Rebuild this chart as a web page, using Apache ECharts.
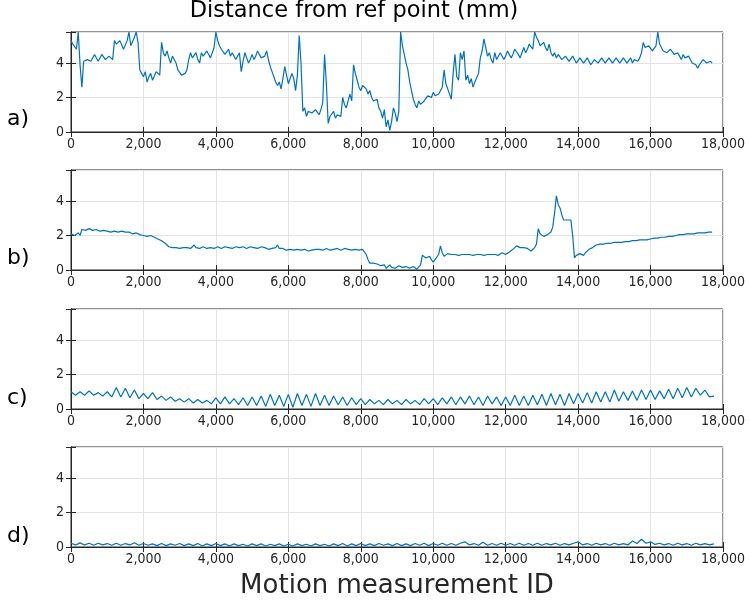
<!DOCTYPE html>
<html><head><meta charset="utf-8">
<script src="https://cdn.jsdelivr.net/npm/echarts@6/dist/echarts.min.js"></script>
<style>html,body{margin:0;padding:0;background:#fff}#c{width:750px;height:600px}</style>
</head><body><div id="c"></div>
<script>
// ---- data ----
const titleText = 'Distance from ref point (mm)';
const xLabelText = 'Motion measurement ID';
const panelLabels = ['a)', 'b)', 'c)', 'd)'];
const xTicks = [0, 2000, 4000, 6000, 8000, 10000, 12000, 14000, 16000, 18000];
const yTicks = [0, 2, 4];

// panel a, samples every 50 IDs
const stepA = 50;
const seriesA = [
5.3,5.1, 5.0,4.8, 5.8,3.9, 2.6,4.1, 4.0,4.2, 4.3,4.1, 4.2,4.5, 4.4,4.1, 4.2,4.5, 4.4,4.2,
4.3,4.4, 4.5,4.2, 5.3,5.1, 5.0,5.3, 5.2,4.8, 4.9,5.3, 5.8,5.0, 5.1,5.5, 5.8,5.2, 3.6,3.4,
3.2,3.5, 2.9,3.2, 3.4,3.0, 3.1,3.5, 3.6,3.3, 5.2,4.6, 4.4,4.7, 4.3,4.0, 4.4,4.2, 4.0,3.6,
3.5,3.3, 3.2,3.4, 3.6,4.2, 4.6,4.3, 4.4,4.6, 4.2,4.0, 4.6,4.4, 4.3,4.7, 4.5,4.3, 4.6,4.9,
5.8,5.3, 5.0,4.8, 4.7,4.5, 4.6,4.8, 4.4,4.6, 4.5,4.2, 4.3,4.6, 3.5,4.1, 4.6,4.3, 4.0,4.2,
4.5,4.2, 4.4,4.7, 4.5,4.3, 4.2,4.4, 4.7,4.2, 3.8,3.5, 3.2,2.9, 2.7,2.9, 2.5,3.1, 3.8,3.3,
2.8,3.1, 3.4,3.1, 2.4,3.3, 5.6,4.0, 1.2,1.4, 0.9,1.2, 1.3,1.1, 1.0,1.3, 1.2,1.0, 1.3,1.7,
4.5,2.8, 0.5,0.9, 1.0,1.2, 0.8,1.0, 1.1,0.9, 2.0,1.6, 1.4,1.8, 2.2,1.8, 3.9,3.4, 3.0,2.6,
2.4,2.7, 2.8,2.5, 2.2,2.4, 2.0,1.8, 1.7,1.9, 1.4,1.2, 0.8,1.3, 0.3,0.7, 0.1,0.6, 1.4,1.1,
0.6,1.2, 5.8,5.0, 4.5,4.0, 3.6,2.9, 2.4,1.9, 1.6,1.4, 1.8,1.6, 1.5,1.8, 1.9,2.1, 2.2,2.0,
2.3,2.1, 2.0,2.2, 2.1,2.6, 3.6,2.8, 2.5,2.2, 1.9,3.4, 4.5,3.2, 3.0,4.6, 4.2,4.7, 3.0,3.3,
2.8,3.1, 2.6,2.9, 2.8,3.4, 4.3,4.7, 5.4,4.9, 4.4,4.6, 4.2,4.0, 4.6,4.2, 4.3,4.6, 4.5,4.2,
4.4,4.7, 4.6,4.3, 4.5,4.8, 4.7,4.5, 4.3,4.6, 4.9,4.6, 4.8,5.1, 5.1,4.8, 5.8,5.5, 5.3,5.0,
5.0,5.2, 4.9,4.7, 5.1,4.6, 4.4,4.6, 4.3,4.5, 4.4,4.2, 4.2,4.4, 4.3,4.1, 4.1,4.4, 4.2,4.0,
4.1,4.3, 4.3,4.0, 4.1,4.3, 4.2,3.9, 4.0,4.2, 4.2,4.0, 4.0,4.3, 4.2,4.0, 4.1,4.3, 4.3,4.0,
4.1,4.3, 4.2,4.0, 4.0,4.3, 4.2,4.0, 4.1,4.3, 4.0,4.2, 4.2,4.1, 4.3,4.6, 5.2,4.9, 4.8,5.0,
4.9,4.7, 4.8,5.0, 5.8,5.1, 4.9,4.7, 4.8,4.6, 4.6,4.8, 4.7,4.5, 4.5,4.6, 4.4,4.2, 4.5,4.3,
4.3,4.4, 4.2,4.0, 4.1,3.9, 3.7,3.9, 4.0,4.2, 4.3,4.0, 4.0,4.1, 4.0
];

// panel b, samples every 50 IDs
const stepB = 50;
const seriesB = [
2.1,2.2, 2.0,2.1, 2.15,2.0, 2.35,2.4, 2.3,2.35, 2.4,2.3, 2.3,2.35, 2.35,2.25, 2.25,2.3, 2.3,2.25,
2.25,2.3, 2.2,2.25, 2.25,2.2, 2.2,2.3, 2.25,2.2, 2.2,2.25, 2.2,2.15, 2.1,2.2, 2.15,2.05, 2.05,2.1,
2.0,2.05, 1.95,2.0, 2.0,1.95, 1.9,1.85, 1.8,1.75, 1.7,1.6, 1.55,1.45, 1.35,1.3, 1.3,1.35, 1.3,1.25,
1.25,1.3, 1.3,1.25, 1.3,1.35, 1.25,1.3, 1.45,1.3, 1.3,1.25, 1.3,1.35, 1.3,1.25, 1.25,1.3, 1.3,1.25,
1.3,1.35, 1.3,1.25, 1.3,1.35, 1.25,1.3, 1.3,1.25, 1.3,1.35, 1.35,1.3, 1.3,1.35, 1.3,1.25, 1.3,1.35,
1.4,1.3, 1.3,1.25, 1.3,1.35, 1.25,1.3, 1.25,1.2, 1.2,1.25, 1.25,1.3, 1.45,1.25, 1.2,1.25, 1.2,1.15,
1.15,1.2, 1.2,1.15, 1.15,1.2, 1.2,1.15, 1.15,1.2, 1.15,1.1, 1.1,1.15, 1.15,1.2, 1.15,1.2, 1.25,1.15,
1.2,1.25, 1.2,1.15, 1.15,1.2, 1.2,1.25, 1.2,1.15, 1.2,1.25, 1.25,1.2, 1.2,1.15, 1.15,1.2, 1.2,1.15,
1.25,1.2, 1.1,0.9, 0.6,0.4, 0.3,0.4, 0.45,0.35, 0.3,0.25, 0.2,0.3, 0.1,0.2, 0.3,0.15, 0.2,0.1,
0.15,0.25, 0.3,0.15, 0.1,0.2, 0.25,0.1, 0.1,0.2, 0.2,0.05, 0.1,0.3, 0.85,0.75, 0.7,0.8, 0.8,0.6,
0.45,0.6, 0.7,0.9, 1.4,1.0, 0.8,0.9, 0.95,0.9, 0.9,0.95, 0.9,0.85, 0.85,0.9, 0.9,0.85, 0.9,0.95,
0.9,0.85, 0.85,0.9, 0.9,0.85, 0.9,0.95, 0.85,0.9, 0.9,0.85, 0.9,0.95, 0.9,0.85, 0.85,0.9, 1.0,0.9,
0.9,1.0, 1.05,1.1, 1.2,1.3, 1.4,1.35, 1.3,1.25, 1.3,1.2, 1.25,1.15, 1.1,1.2, 1.3,1.5, 2.4,2.1,
2.0,1.95, 2.0,2.05, 2.1,2.2, 2.5,3.3, 4.3,3.8, 3.6,3.2, 2.9,3.0, 2.9,2.95, 2.9,2.0, 0.7,0.85,
0.8,0.95, 0.9,0.85, 1.0,1.1, 1.2,1.15, 1.3,1.4, 1.45,1.4, 1.5,1.55, 1.5,1.45, 1.55,1.5, 1.55,1.6,
1.6,1.55, 1.6,1.65, 1.6,1.55, 1.65,1.6, 1.65,1.7, 1.7,1.65, 1.7,1.75, 1.75,1.7, 1.75,1.8, 1.75,1.7,
1.8,1.75, 1.85,1.8, 1.85,1.9, 1.9,1.85, 1.9,1.95, 1.95,2.0, 1.95,2.0, 2.0,2.05, 2.05,2.1, 2.05,2.1,
2.1,2.05, 2.1,2.15, 2.1,2.15, 2.15,2.1, 2.15,2.2, 2.15,2.2, 2.2,2.15, 2.2
];

// panel c, samples every 125 IDs
const stepC = 125;
const seriesC = [
1.0,0.8,1.0,0.8,1.05,0.8,0.95,0.75,
1.0,0.7,1.25,0.7,1.2,0.65,1.1,0.6,
0.9,0.6,0.95,0.55,0.75,0.5,0.7,0.45,
0.6,0.4,0.6,0.35,0.55,0.35,0.5,0.3,
0.65,0.3,0.7,0.3,0.6,0.25,0.65,0.2,
0.7,0.2,0.75,0.15,0.85,0.2,0.8,0.15,
0.85,0.1,0.9,0.2,0.85,0.15,0.9,0.2,
0.8,0.2,0.75,0.25,0.7,0.2,0.65,0.25,
0.6,0.25,0.55,0.3,0.5,0.25,0.55,0.3,
0.5,0.25,0.55,0.3,0.5,0.25,0.6,0.3,
0.6,0.25,0.65,0.3,0.7,0.25,0.7,0.3,
0.75,0.25,0.7,0.2,0.75,0.3,0.7,0.2,
0.7,0.2,0.8,0.2,0.75,0.2,0.8,0.25,
0.85,0.2,0.9,0.25,0.85,0.2,0.9,0.3,
0.9,0.35,0.95,0.35,1.0,0.4,1.0,0.4,
1.1,0.45,1.0,0.5,1.05,0.5,1.1,0.55,
1.1,0.55,1.05,0.6,1.15,0.6,1.2,0.65,
1.25,0.7,1.2,0.8,1.1,0.7,0.75
];

// panel d, samples every 125 IDs
const stepD = 125;
const seriesD = [
0.22,0.12,0.24,0.12,0.22,0.1,0.22,0.12,0.2,0.1,0.22,0.1,0.2,0.12,0.25,0.1,
0.2,0.1,0.18,0.08,0.2,0.08,0.18,0.1,0.2,0.08,0.18,0.08,0.2,0.06,0.18,0.08,
0.2,0.08,0.18,0.06,0.18,0.08,0.16,0.06,0.18,0.08,0.18,0.06,0.16,0.08,0.18,0.06,
0.16,0.06,0.18,0.08,0.16,0.06,0.18,0.08,0.16,0.06,0.18,0.08,0.2,0.06,0.18,0.08,
0.2,0.08,0.18,0.08,0.2,0.1,0.18,0.08,0.2,0.08,0.18,0.08,0.2,0.1,0.22,0.08,
0.2,0.1,0.22,0.1,0.2,0.1,0.22,0.3,0.12,0.2,0.1,0.28,0.1,0.2,0.1,0.22,
0.1,0.2,0.1,0.22,0.1,0.2,0.1,0.22,0.1,0.2,0.12,0.22,0.1,0.2,0.12,0.22,
0.3,0.12,0.2,0.1,0.22,0.12,0.2,0.1,0.22,0.12,0.2,0.12,0.35,0.2,0.45,0.22,
0.3,0.15,0.22,0.12,0.2,0.1,0.22,0.12,0.2,0.1,0.22,0.12,0.2,0.12,0.18
];

// ---- chart ----
const panels = [
  {vals: seriesA, step: stepA},
  {vals: seriesB, step: stepB},
  {vals: seriesC, step: stepC},
  {vals: seriesD, step: stepD}
];
const gridTops = [32, 170, 309, 447];
const gridH = 100;
const FONT = 'DejaVu Sans';
const TICKFONT = '"DejaVu Sans Condensed", "DejaVu Sans"';
const AX = '#262626';
const labelTops = [108, 247, 387, 525];

const grids = [], xAxes = [], yAxes = [], series = [];
panels.forEach((p, i) => {
  grids.push({left: 71, width: 652, top: gridTops[i], height: gridH, show: true,
    borderColor: AX, borderWidth: 1, backgroundColor: 'transparent'});
  const fmt = v => Number(v).toLocaleString('en-US');
  xAxes.push({type: 'value', gridIndex: i, min: xTicks[0], max: xTicks[xTicks.length - 1], interval: 2000,
    position: 'bottom',
    axisLine: {show: true, lineStyle: {color: AX}},
    axisTick: {inside: true, length: 5, lineStyle: {color: AX}},
    axisLabel: {color: AX, fontFamily: TICKFONT, fontSize: 14, margin: 5, formatter: fmt},
    splitLine: {show: true, lineStyle: {color: '#e3e3e3', width: 1}}});
  xAxes.push({type: 'value', gridIndex: i, min: xTicks[0], max: xTicks[xTicks.length - 1], interval: 2000,
    position: 'top',
    axisLine: {show: true, lineStyle: {color: AX}},
    axisTick: {inside: true, length: 5, lineStyle: {color: AX}},
    axisLabel: {show: false}, splitLine: {show: false}});
  yAxes.push({type: 'value', gridIndex: i, min: 0, max: 5.8, interval: 2, position: 'left',
    axisLine: {show: true, lineStyle: {color: AX}},
    axisTick: {inside: true, length: 5, lineStyle: {color: AX}},
    axisLabel: {color: AX, fontFamily: TICKFONT, fontSize: 14, margin: 7,
      formatter: v => (yTicks.indexOf(v) >= 0 ? String(v) : '')},
    splitLine: {show: true, lineStyle: {color: '#e3e3e3', width: 1}}});
  yAxes.push({type: 'value', gridIndex: i, min: 0, max: 5.8, interval: 2, position: 'right',
    axisLine: {show: true, lineStyle: {color: AX}},
    axisTick: {inside: true, length: 5, lineStyle: {color: AX}},
    axisLabel: {show: false}, splitLine: {show: false}});
  series.push({type: 'line', xAxisIndex: 2 * i, yAxisIndex: 2 * i,
    data: p.vals.map((v, k) => [k * p.step, v]),
    showSymbol: false, symbol: 'none', animation: false, clip: true,
    lineStyle: {color: '#0072BD', width: 1.2}});
});

const titles = [
  {text: titleText, left: 354, top: 0, padding: 0, textAlign: 'center',
    textStyle: {fontFamily: FONT, fontSize: 22.5, fontWeight: 'normal', color: '#000'}}
];
panelLabels.forEach((t, i) => titles.push({text: t, left: 7, top: labelTops[i], padding: 0,
  textStyle: {fontFamily: FONT, fontSize: 22, fontWeight: 'normal', color: '#000'}}));
titles.push({text: xLabelText, left: 397, top: 573, padding: 0, textAlign: 'center',
  textStyle: {fontFamily: FONT, fontSize: 26, fontWeight: 'normal', color: AX}});

const chart = echarts.init(document.getElementById('c'), null, {renderer: 'canvas'});
chart.setOption({animation: false, backgroundColor: '#fff', title: titles,
  grid: grids, xAxis: xAxes, yAxis: yAxes, series: series});
</script></body></html>
